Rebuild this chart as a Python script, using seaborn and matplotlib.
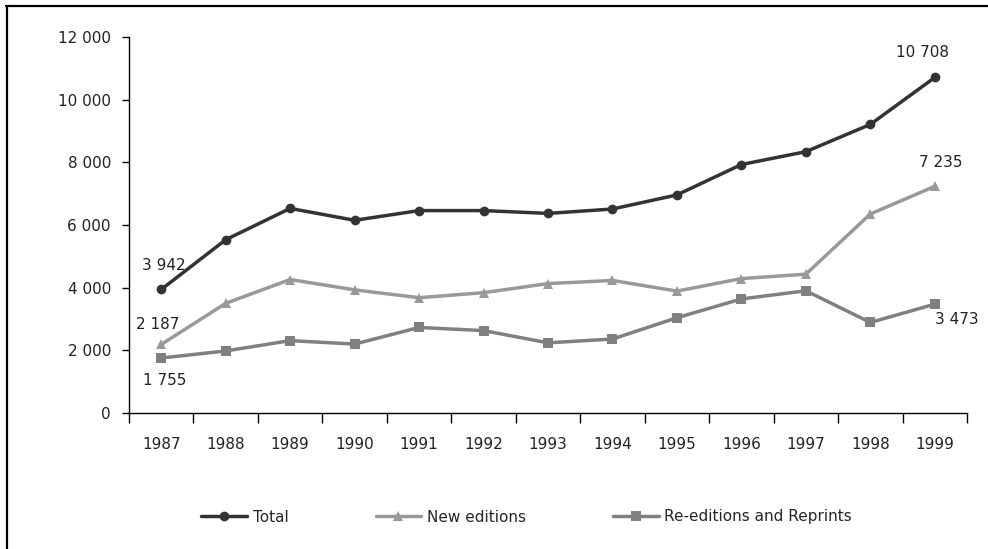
import matplotlib
matplotlib.use("Agg")
import matplotlib.pyplot as plt
from matplotlib.lines import Line2D
import seaborn as sns
import pandas as pd

years = ["1987", "1988", "1989", "1990", "1991", "1992", "1993",
         "1994", "1995", "1996", "1997", "1998", "1999"]
total = [3942, 5530, 6530, 6150, 6460, 6460, 6370, 6510, 6960, 7930, 8340, 9210, 10708]
new_editions = [2187, 3500, 4260, 3930, 3680, 3840, 4130, 4230, 3890, 4290, 4430, 6350, 7235]
reprints = [1755, 1980, 2310, 2200, 2730, 2630, 2240, 2360, 3040, 3640, 3900, 2890, 3473]

series_names = ["Total", "New editions", "Re-editions and Reprints"]
y_ticks = [0, 2000, 4000, 6000, 8000, 10000, 12000]

sns.set_theme(style="white")
plt.rcParams["font.family"] = ["DejaVu Sans"]

df = pd.DataFrame({
    "year": years * 3,
    "x": list(range(len(years))) * 3,
    "value": total + new_editions + reprints,
    "series": [series_names[0]] * len(years) + [series_names[1]] * len(years)
              + [series_names[2]] * len(years),
})

colors = {"Total": "#333333", "New editions": "#999999",
          "Re-editions and Reprints": "#808080"}
markers = {"Total": "o", "New editions": "^", "Re-editions and Reprints": "s"}

fig = plt.figure(figsize=(9.88, 5.49), dpi=100)
ax = fig.add_axes([129 / 988, 1 - 413 / 549, (967 - 129) / 988, (413 - 37) / 549])

sns.lineplot(data=df, x="x", y="value", hue="series", style="series",
             palette=colors, markers=markers, dashes=False, linewidth=2.5,
             markersize=7, markeredgewidth=0, ax=ax, legend=False)

ax.set_xlim(-0.5, len(years) - 0.5)
ax.set_ylim(0, 12000)
ax.set_yticks(y_ticks)
ax.set_yticklabels([f"{v:,}".replace(",", " ") for v in y_ticks], fontsize=11, color="#222222")
ax.set_xticks(range(len(years)))
ax.set_xticklabels(years, fontsize=11, color="#222222")
ax.set_xticks([i - 0.5 for i in range(len(years) + 1)], minor=True)
ax.tick_params(axis="x", which="major", length=0, pad=17)
ax.tick_params(axis="x", which="minor", length=7, width=1, color="black", direction="out", bottom=True)
ax.tick_params(axis="y", length=5, width=1, color="black", direction="out", left=True, pad=8)
ax.set_xlabel("")
ax.set_ylabel("")
for side in ["top", "right"]:
    ax.spines[side].set_visible(False)
for side in ["left", "bottom"]:
    ax.spines[side].set_color("black")
    ax.spines[side].set_linewidth(1)

def fmt(v):
    return f"{v:,}".replace(",", " ")

labels = [
    (0, total[0], (3, 24)),
    (0, new_editions[0], (-4, 20)),
    (0, reprints[0], (3, -22)),
    (12, total[12], (-12, 25)),
    (12, new_editions[12], (6, 24)),
    (12, reprints[12], (22, -15)),
]
for xi, v, off in labels:
    ax.annotate(fmt(v), (xi, v), xytext=off, textcoords="offset pixels",
                ha="center", va="center", fontsize=11, color="#222222")

handles = [Line2D([0], [0], color=colors[n], marker=markers[n], linewidth=2.5,
                  markersize=7, markeredgewidth=0) for n in series_names]
fig.legend(handles, series_names, loc="center", bbox_to_anchor=(0.533, 1 - 517 / 549),
           ncol=3, frameon=False, fontsize=11, handlelength=3.0, columnspacing=5.7,
           handletextpad=0.35)

# frame edges along the top and left of the figure
fig.add_artist(Line2D([6 / 988, 1], [1 - 5.5 / 549, 1 - 5.5 / 549], color="black",
                      linewidth=1.6, transform=fig.transFigure))
fig.add_artist(Line2D([7 / 988, 7 / 988], [0, 1 - 5.5 / 549], color="black",
                      linewidth=1.6, transform=fig.transFigure))

fig.savefig("out.png", dpi=100)
